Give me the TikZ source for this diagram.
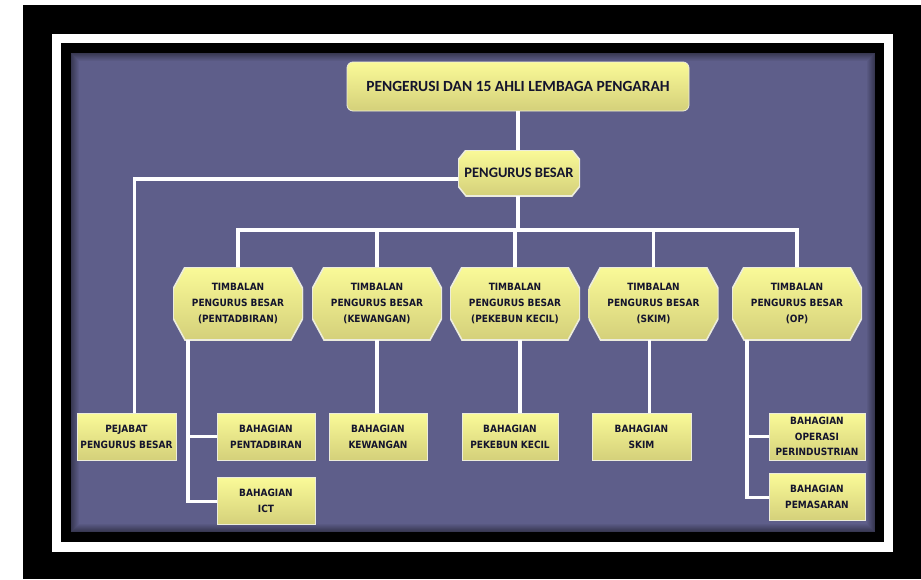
\documentclass[tikz,border=0pt]{standalone}
\usepackage{fontspec}
\newfontfamily\boxfont{DejaVu Sans Condensed}
\newfontfamily\headfont{Carlito}
\usetikzlibrary{positioning,calc}

\definecolor{boardbg}{RGB}{94,94,138}
\definecolor{boxtop}{RGB}{250,250,152}
\definecolor{boxbot}{RGB}{212,208,122}
\definecolor{boxrim}{RGB}{236,236,220}
\definecolor{boxtext}{RGB}{20,20,45}

% octagon drawn inside the node box: #1 = x cut, #2 = y cut
\tikzset{
  octagon/.style 2 args={rectangle, align=center, text=boxtext, inner sep=1pt,
    path picture={
      \shade[top color=boxtop, bottom color=boxbot, draw=boxrim, line width=1.6pt]
        ([xshift=#1]path picture bounding box.north west)
        -- ([xshift=-#1]path picture bounding box.north east)
        -- ([yshift=-#2]path picture bounding box.north east)
        -- ([yshift=#2]path picture bounding box.south east)
        -- ([xshift=-#1]path picture bounding box.south east)
        -- ([xshift=#1]path picture bounding box.south west)
        -- ([yshift=#2]path picture bounding box.south west)
        -- ([yshift=-#2]path picture bounding box.north west) -- cycle;
    }}
}

\begin{document}
\begin{tikzpicture}[
    x=1pt, y=-1pt,
    font=\boxfont\bfseries\fontsize{10}{16}\selectfont,
    box/.style    = {rectangle, draw=boxrim, line width=0.8pt,
                     top color=boxtop, bottom color=boxbot,
                     text=boxtext, align=center, inner sep=1pt},
    board/.style  = {box, rounded corners=6pt, minimum width=342pt,
                     minimum height=49pt,
                     font=\headfont\bfseries\fontsize{15.5}{18}\selectfont},
    chief/.style  = {octagon={8pt}{10pt},
                     minimum width=122pt, minimum height=46pt,
                     font=\headfont\bfseries\fontsize{14.5}{18}\selectfont},
    deputy/.style = {octagon={12pt}{22pt},
                     minimum width=130pt, minimum height=73pt},
    unit/.style   = {box, minimum width=98pt, minimum height=47pt},
    link/.style   = {draw=white, line width=3.5pt}
]

% --- Frame -----------------------------------------------------------------
\useasboundingbox (0,0) rectangle (921,579);
\fill[white]    (0,0)   rectangle (921,579);
\fill[black]    (23,5)  rectangle (921,579);
\fill[white]    (52,34) rectangle (893,552);
\fill[black]    (61,43) rectangle (884,542);
\fill[boardbg]  (71,53) rectangle (875,532);
\foreach \i in {0,...,7}
  \draw[black, opacity={0.4*(1-\i/8)}, line width=1pt]
    (71.5+\i,53.5+\i) rectangle (874.5-\i,531.5-\i);

% --- Top levels ------------------------------------------------------------
\node[board]  (lembaga) at (518,86.5) {PENGERUSI DAN 15 AHLI LEMBAGA PENGARAH};
\node[chief]  (pb)      at (519,173)  {PENGURUS BESAR};
\coordinate   (bus)     at (518,230);

% --- Deputies --------------------------------------------------------------
\node[deputy] (tpen) at (238,303.5)   {TIMBALAN\\PENGURUS BESAR\\(PENTADBIRAN)};
\node[deputy] (tkew) at (377,303.5)   {TIMBALAN\\PENGURUS BESAR\\(KEWANGAN)};
\node[deputy] (tpk)  at (515,303.5)   {TIMBALAN\\PENGURUS BESAR\\(PEKEBUN KECIL)};
\node[deputy] (tsk)  at (653.5,303.5) {TIMBALAN\\PENGURUS BESAR\\(SKIM)};
\node[deputy] (top)  at (797,303.5)   {TIMBALAN\\PENGURUS BESAR\\(OP)};

% --- Divisions -------------------------------------------------------------
\node[unit, minimum width=99pt] (pej)   at (126.5,436.5) {PEJABAT\\PENGURUS BESAR};
\node[unit]                     (bpen)  at (266,436.5)   {BAHAGIAN\\PENTADBIRAN};
\node[unit, below=17pt of bpen] (bict)                   {BAHAGIAN\\ICT};
\node[unit]                     (bkew)  at (378,436.5)   {BAHAGIAN\\KEWANGAN};
\node[unit, minimum width=96pt] (bpk)   at (510,436.5)   {BAHAGIAN\\PEKEBUN KECIL};
\node[unit, minimum width=99pt] (bsk)   at (641.5,436.5) {BAHAGIAN\\SKIM};
\node[unit, minimum width=96pt, font=\boxfont\bfseries\fontsize{10}{15.5}\selectfont]
                                (bop)   at (817,436.5)   {BAHAGIAN\\OPERASI\\PERINDUSTRIAN};
\node[unit, minimum width=96pt, below=13pt of bop] (bpem) {BAHAGIAN\\PEMASARAN};

% --- Links -----------------------------------------------------------------
\draw[link] (lembaga) -- ([xshift=-1pt]pb.north);
\draw[link] ([yshift=-6pt]pb.west) -| ([xshift=8pt]pej.north);
\draw[link] ([xshift=-1pt]pb.south) -- (bus);
\foreach \t in {tpen,tkew,tpk,tsk,top}
  \draw[link] (bus) -| (\t.north);

\draw[link] ([xshift=-50pt]tpen.south) |- (bpen.west);
\draw[link] ([xshift=-50pt]tpen.south) |- (bict.west);
\draw[link] (tkew) -- (tkew.south |- bkew.north);
\draw[link] ([xshift=5pt]tpk.south) -- ([xshift=5pt]tpk.south |- bpk.north);
\draw[link] ([xshift=-4pt]tsk.south) -- ([xshift=-4pt]tsk.south |- bsk.north);
\draw[link] ([xshift=-50pt]top.south) |- (bop.west);
\draw[link] ([xshift=-50pt]top.south) |- (bpem.west);

\end{tikzpicture}
\end{document}
